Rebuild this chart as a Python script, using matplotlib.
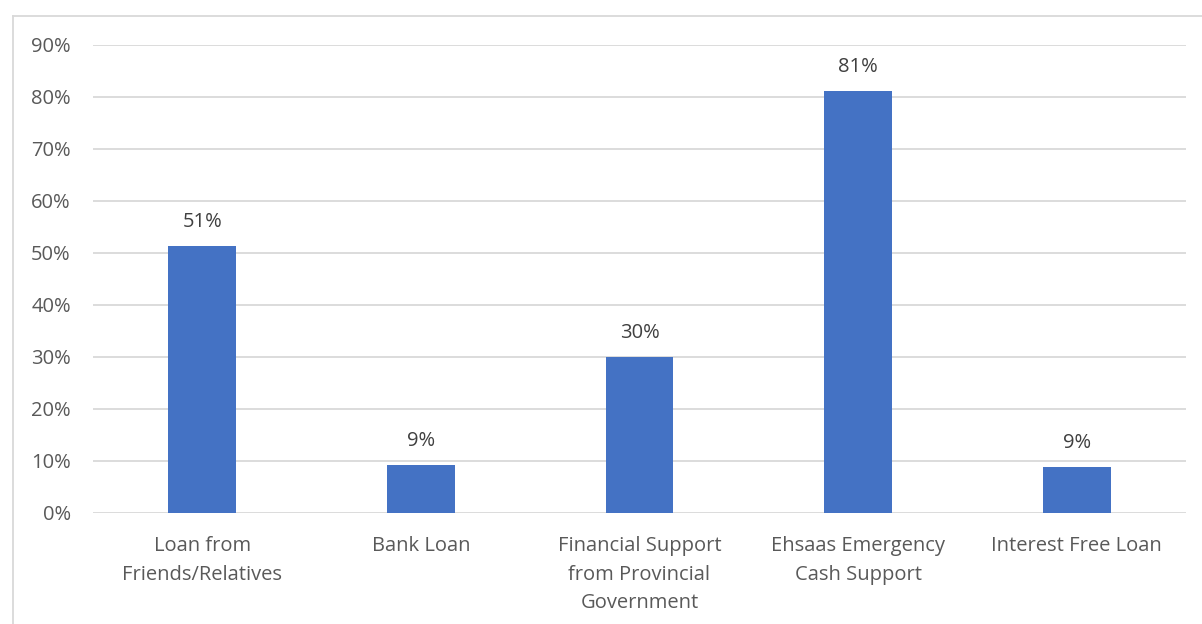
import matplotlib.pyplot as plt
from matplotlib.lines import Line2D
import numpy as np

categories = ['Loan from\nFriends/Relatives', 'Bank Loan',
              'Financial Support\nfrom Provincial\nGovernment',
              'Ehsaas Emergency\nCash Support', 'Interest Free Loan']
values = [51.3, 9.2, 30.0, 81.2, 8.8]
labels = ['51%', '9%', '30%', '81%', '9%']
yticks = [0, 10, 20, 30, 40, 50, 60, 70, 80, 90]

bar_color = '#4472C4'
text_color = '#595959'
grid_color = '#D9D9D9'

plt.rcParams['font.family'] = ['Open Sans', 'DejaVu Sans']

fig = plt.figure(figsize=(12.02, 6.24), dpi=100)
ax = fig.add_axes([93 / 1202, 1 - 513 / 624, (1186 - 93) / 1202, (513 - 45) / 624])

x = np.arange(len(categories))
bars = ax.bar(x, values, width=0.31, color=bar_color, zorder=3)

for xi, v, lab in zip(x, values, labels):
    ax.annotate(lab, (xi, v), xytext=(0, 10), textcoords='offset points',
                ha='center', va='bottom', fontsize=14.5, color='#404040')

ax.set_xlim(-0.5, len(categories) - 0.5)
ax.set_ylim(0, 90)
ax.set_yticks(yticks)
ax.set_yticklabels(['{}%'.format(t) for t in yticks])
ax.set_xticks(x)
ax.set_xticklabels(categories, linespacing=1.58)

ax.tick_params(axis='y', length=0, pad=16, labelsize=14.5, labelcolor=text_color)
ax.tick_params(axis='x', length=0, pad=16.5, labelsize=14.5, labelcolor=text_color)

ax.grid(axis='y', color=grid_color, linewidth=1.3, zorder=0)
for s in ax.spines.values():
    s.set_visible(False)

# chart border (only top and left show inside the picture)
fig.add_artist(Line2D([13 / 1202, 13 / 1202], [0, 1 - 16 / 624], color=grid_color,
                      linewidth=1.3, transform=fig.transFigure))
fig.add_artist(Line2D([13 / 1202, 1], [1 - 16 / 624, 1 - 16 / 624], color=grid_color,
                      linewidth=1.3, transform=fig.transFigure))

fig.savefig('out.png', dpi=100)
